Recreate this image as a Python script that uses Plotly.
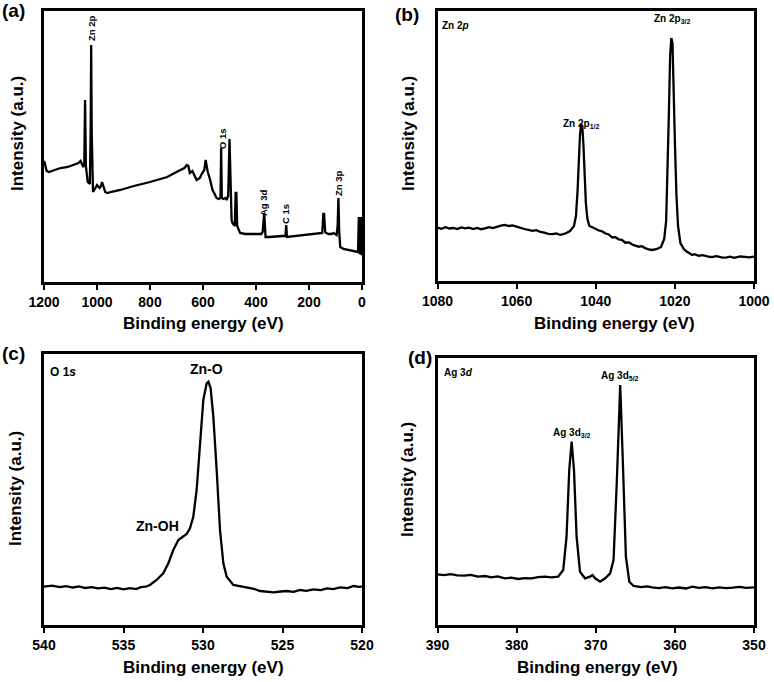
import plotly.graph_objects as go

W, H = 774, 682
FONT = "Liberation Sans, Arial, sans-serif"

# ---------------- data ----------------
# (a) survey
a_ev = [1200, 1197, 1190, 1181, 1160, 1137, 1110, 1087, 1070, 1062, 1056, 1052, 1048, 1045, 1042,
        1039, 1035, 1031, 1027, 1024, 1022, 1020, 1017, 1015, 1008, 1000, 994, 990, 985, 981, 976,
        969, 960, 949, 912, 861, 800, 735, 700, 687, 670, 661, 655, 650, 640, 624, 612, 605, 595,
        590, 586, 582, 575, 564, 556, 549, 541, 534, 531.5, 529, 524, 515, 511, 505, 500, 495, 492,
        489, 485, 480, 477, 474, 471, 466, 460, 440, 400, 380, 375, 372, 369, 366, 364, 350, 320,
        300, 289, 286, 283, 250, 200, 160, 150, 146, 143, 139, 135, 125, 115, 108, 100, 96, 92, 89,
        86, 82, 70, 50, 30, 19, 15, 12, 10, 7, 4, 2, 0]
a_int = [121, 119, 111, 110, 112, 114, 115, 117, 119, 121, 117, 115, 118, 182, 116,
         108, 100, 99, 98, 150, 237, 150, 100, 90, 93, 97, 95, 94, 96, 100, 96,
         90, 89, 90, 92, 96, 100, 105, 110, 112, 114, 117, 116, 109, 111, 102, 104, 108, 112,
         122, 116, 110, 104, 92, 88, 84, 83, 84, 134, 84, 83, 84, 82, 86, 143, 80, 62,
         59, 57, 56, 89, 89, 56, 52, 49, 48, 48, 48, 50, 60, 69, 55, 45, 45, 46,
         46, 46, 57, 45, 46, 47, 48, 49, 68, 68, 50, 49, 48, 48, 49, 48, 47, 56, 84,
         50, 35, 33, 32, 31, 30, 30, 65, 30, 28, 65, 28, 28]

# (b) Zn 2p
b_ev = [1080, 1079, 1078, 1077, 1076, 1075, 1074, 1073, 1072, 1071, 1070, 1069, 1068, 1067, 1066,
        1065, 1064, 1063, 1062, 1061, 1060, 1059, 1058, 1057, 1056, 1055, 1054, 1053, 1052, 1051,
        1050, 1049, 1048, 1047.2, 1046.5, 1045.5, 1045.0, 1044.6, 1044.3, 1044.0, 1043.7, 1043.4,
        1043.1, 1042.8, 1042.5, 1042.1, 1041.6, 1041, 1040.5, 1040, 1039.2, 1038.5, 1037.5, 1036.8,
        1035.9, 1035, 1034.2, 1033.4, 1032.5, 1031.6, 1030.8, 1030, 1029.1, 1028.3, 1027.5, 1026.6,
        1025.8, 1025, 1024.5, 1023.5, 1022.7, 1022.2, 1021.8, 1021.5, 1021.2, 1020.9, 1020.6,
        1020.3, 1020.0, 1019.6, 1019.2, 1018.6, 1017.7, 1017, 1016.5, 1016, 1015.6, 1015, 1014,
        1013, 1012.2, 1011.3, 1010.5, 1009.7, 1008.9, 1008, 1006.8, 1006, 1005, 1004.6, 1003.5,
        1002.3, 1001.2, 1000]
b_int = [53.3, 52.2, 53.8, 52.5, 53.0, 51.9, 53.6, 52.6, 53.4, 52.0, 53.1, 51.8, 52.6, 53.9, 53.0,
         54.6, 55.4, 56.0, 55.0, 55.6, 54.0, 53.2, 52.0, 51.4, 50.2, 50.8, 49.0, 48.4, 47.2, 46.8,
         47.5, 46.2, 47.0, 48.5, 50, 55, 65, 90, 120, 145, 157, 155,
         135, 105, 78, 62, 55, 54, 53, 51.5, 50.5, 49.8, 47.5, 46.8,
         43.7, 43.8, 41.5, 41.2, 38.3, 38.6, 36.5, 35.4, 34.3, 34.8, 32.8, 31.5,
         31.0, 31.6, 32.0, 34.0, 42, 60, 110, 170, 225, 243, 238,
         200, 140, 85, 55, 38, 31.7, 29.5, 28.0, 26.5, 26.0, 26.8, 25.2,
         25.9, 25.0, 24.1, 24.0, 24.8, 24.3, 23.4, 23.6, 24.4, 23.2, 23.7, 24.5,
         24.2, 23.6, 24.3]

# (c) O 1s
c_ev = [540, 539.5, 539, 538.6, 538.2, 537.8, 537.4, 537, 536.6, 536.2, 535.8, 535.4, 535, 534.6,
        534.2, 533.9, 533.6, 533.34, 532.92, 532.5, 532.18, 531.87, 531.55, 531.24, 531.03, 530.82,
        530.61, 530.4, 530.19, 529.98, 529.77, 529.66, 529.52, 529.35, 529.14, 528.93, 528.72,
        528.51, 528.09, 527.7, 527.25, 526.8, 526.41, 526, 525.57, 525.1, 524.73, 524.3, 523.89,
        523.5, 523.05, 522.6, 522.21, 521.8, 521.37, 520.9, 520.53, 520.2, 520]
c_int = [38.3, 39.4, 37.8, 38.9, 37.5, 38.6, 37.0, 37.9, 36.6, 37.4, 35.9, 37.1, 35.6, 36.8,
         35.9, 37.9, 38.3, 40.0, 45.0, 51.7, 61.7, 75.0, 85.0, 88.3, 91.0, 96.7,
         108.3, 135.0, 185.0, 225.0, 241.7, 243.3, 236.7, 208.3, 155.0, 95.0, 61.7,
         48.3, 40.0, 38.9, 37.7, 36.2, 34.0, 33.2, 32.7, 33.5, 34.0, 33.1, 35.0,
         34.2, 35.7, 34.9, 36.7, 35.8, 37.7, 36.9, 39.0, 38.1, 38.3]

# (d) Ag 3d
d_ev = [390, 389.2, 388.3, 387.5, 386.6, 385.8, 384.9, 384, 383.2, 382.4, 381.5, 380.7, 379.8,
        379, 378.1, 377.3, 376.4, 375.6, 374.75, 374.11, 373.69, 373.35, 373.05, 372.75, 372.42,
        371.99, 371.36, 370.72, 370.42, 370.08, 369.45, 368.81, 368.18, 367.75, 367.33, 366.91,
        366.57, 366.19, 365.76, 365.21, 364.3, 363.5, 362.88, 362, 361.2, 360.34, 359.5, 358.6,
        357.8, 357, 356.1, 355.25, 354.4, 353.5, 352.71, 351.8, 351, 350]
d_int = [50.7, 49.8, 50.9, 49.6, 49.3, 50.2, 48.3, 49.0, 47.7, 48.6, 46.7, 47.3, 46.0,
         46.9, 46.7, 47.9, 48.3, 47.7, 48.3, 55.0, 88.3, 155.0, 183.3, 155.0, 88.3,
         53.3, 46.7, 48.3, 50.0, 46.7, 43.3, 46.7, 51.7, 65.0, 145.0, 240.0,
         161.7, 68.3, 43.3, 39.0, 37.9, 38.6, 37.7, 36.9, 37.8, 36.7, 37.5, 36.5,
         38.3, 37.2, 37.9, 36.7, 37.6, 36.8, 37.3, 38.1, 37.2, 37.7]

a_ticks = [1200, 1000, 800, 600, 400, 200, 0]
b_ticks = [1080, 1060, 1040, 1020, 1000]
c_ticks = [540, 535, 530, 525, 520]
d_ticks = [390, 380, 370, 360, 350]

# ---------------- layout helpers ----------------
def X(px):
    return px / W

def Y(py):
    return 1 - py / H

panels = [
    # name, xdata, ydata, ticks, xrange, yrange, frame (left, right, top, bottom) in px
    ("a", a_ev, a_int, a_ticks, [1200, 0], [0, 271], (44, 362, 11, 282)),
    ("b", b_ev, b_int, b_ticks, [1080, 1000], [0, 270], (437.5, 754, 11, 281)),
    ("c", c_ev, c_int, c_ticks, [540, 520], [0, 271], (44, 362, 354, 625)),
    ("d", d_ev, d_int, d_ticks, [390, 350], [0, 267], (437.5, 754, 358, 625)),
]

fig = go.Figure()
layout = dict(
    template="none",
    width=W, height=H, margin=dict(l=0, r=0, t=0, b=0, autoexpand=False), autosize=False,
    paper_bgcolor="white", plot_bgcolor="white", showlegend=False,
    font=dict(family=FONT, color="black"),
)
annotations = []

for i, (name, xs, ys, ticks, xr, yr, (l, r, t, b)) in enumerate(panels):
    sfx = "" if i == 0 else str(i + 1)
    fig.add_trace(go.Scatter(x=xs, y=ys, mode="lines",
                             line=dict(color="black", width=2.3, shape="linear"),
                             xaxis="x" + sfx, yaxis="y" + sfx, hoverinfo="skip"))
    layout["xaxis" + sfx] = dict(
        domain=[X(l), X(r)], range=xr, anchor="y" + sfx, automargin=False,
        tickmode="array", tickvals=ticks, ticktext=[str(v) for v in ticks],
        ticks="outside", ticklen=5, tickwidth=2, tickcolor="black",
        showline=True, mirror=True, linewidth=3, linecolor="black",
        showgrid=False, zeroline=False,
        tickfont=dict(family=FONT, size=14, color="black", weight="bold"),
    )
    layout["yaxis" + sfx] = dict(
        domain=[Y(b), Y(t)], range=yr, anchor="x" + sfx, automargin=False,
        showticklabels=False, ticks="",
        showline=True, mirror=True, linewidth=3, linecolor="black",
        showgrid=False, zeroline=False,
    )

def ann(text, x, y, size, angle=0, xanchor="center", yanchor="middle", weight="bold"):
    annotations.append(dict(
        text=text, x=X(x), y=Y(y), xref="paper", yref="paper",
        xanchor=xanchor, yanchor=yanchor, showarrow=False, textangle=angle,
        font=dict(family=FONT, size=size, color="black", weight=weight),
    ))

# panel letters
ann("(a)", 13, 11, 19)
ann("(b)", 407, 15, 19)
ann("(c)", 13, 353, 19)
ann("(d)", 420, 357, 19)

# axis titles
ann("Binding energy (eV)", 203, 323, 17)
ann("Binding energy (eV)", 614, 323, 17)
ann("Binding energy (eV)", 203, 667, 17)
ann("Binding energy (eV)", 597, 667, 17)
ann("Intensity (a.u.)", 17, 134, 17, angle=-90)
ann("Intensity (a.u.)", 408, 134, 17, angle=-90)
ann("Intensity (a.u.)", 15, 489, 17, angle=-90)
ann("Intensity (a.u.)", 407, 480, 17, angle=-90)

# panel (a) peak labels
ann("Zn 2p", 92, 28, 9.5, angle=-90)
ann("O 1s", 222, 139, 9.5, angle=-90)
ann("Ag 3d", 264, 203, 9.5, angle=-90)
ann("C 1s", 286, 214, 9.5, angle=-90)
ann("Zn 3p", 338, 183, 9.5, angle=-90)

# panel (b)
ann("Zn 2<i>p</i>", 440, 26, 10, xanchor="left")
ann("Zn 2p<sub>3/2</sub>", 672, 19, 10)
ann("Zn 2p<sub>1/2</sub>", 581, 124, 10)

# panel (c)
ann("O 1<i>s</i>", 48, 372, 12, xanchor="left")
ann("Zn-O", 207, 369, 14)
ann("Zn-OH", 157, 526, 14)

# panel (d)
ann("Ag 3<i>d</i>", 442, 372, 10, xanchor="left")
ann("Ag 3d<sub>5/2</sub>", 620, 376, 10)
ann("Ag 3d<sub>3/2</sub>", 572, 433, 10)

layout["annotations"] = annotations
fig.update_layout(**layout)
fig.write_html("out.html", config={"displayModeBar": False},
               post_script="document.body.style.margin='0';document.body.style.overflow='hidden';")
